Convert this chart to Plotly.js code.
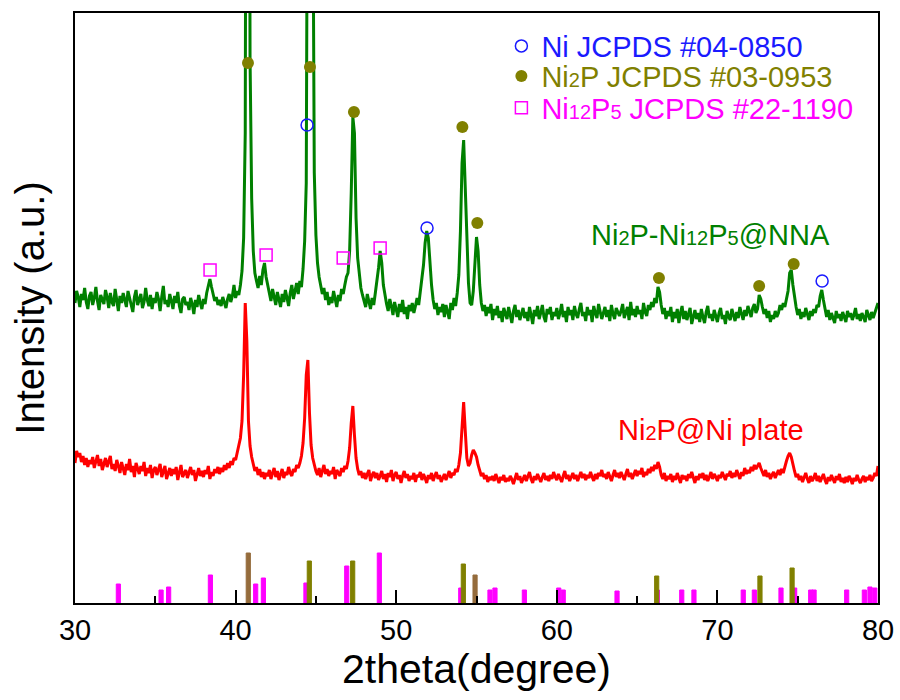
<!DOCTYPE html>
<html>
<head>
<meta charset="utf-8">
<script src="https://cdn.plot.ly/plotly-3.0.1.min.js"></script>
<style>html,body{margin:0;padding:0;background:#fff;}#chart{width:900px;height:700px;}</style>
</head>
<body>
<div id="chart"></div>
<script>
// 2theta grid: 30.0 .. 80.0, step 0.1 degree
const thetaStart = 30.0;
const thetaStep = 0.1;

// Ni2P-Ni12P5@NNA pattern (arbitrary units, offset stacked), one row per degree
const nnaIntensity = [
300,312,306,296,309,303,315,301,294,307,
311,298,305,316,302,293,308,304,299,313,
306,295,310,301,297,314,303,292,307,300,
310,302,296,312,305,299,291,306,313,298,
304,309,295,301,315,303,297,308,294,305,
300,311,304,292,306,317,299,303,296,309,
302,294,307,300,311,297,290,304,306,298,
301,293,305,299,289,303,296,308,300,294,
304,299,310,318,324,316,309,302,306,298,
303,297,306,300,295,304,309,301,307,318,
305,312,308,318,332,365,470,1250,1320,545,
405,352,330,322,315,327,318,333,340,326,
318,309,302,314,305,298,311,303,296,309,
301,313,306,297,310,318,304,312,320,309,
322,316,334,362,420,900,1350,1380,760,430,
368,340,326,318,309,315,303,311,298,306,
300,312,305,296,308,302,314,309,318,326,
330,352,410,486,470,385,345,326,315,308,
302,296,309,300,294,305,298,310,322,335,
352,340,318,306,299,292,304,297,288,301,
294,286,299,291,303,289,296,284,298,292,
300,290,297,305,298,310,322,338,360,372,
365,340,318,303,294,300,288,296,291,299,
286,298,292,284,300,293,305,297,310,328,
372,440,463,418,360,320,300,298,312,340,
366,352,318,300,292,298,287,296,290,299,
283,294,288,297,285,292,281,295,289,284,
296,287,280,292,298,286,293,283,290,295,
285,291,282,296,288,279,293,287,297,284,
290,298,286,281,294,289,296,283,291,287,
295,284,290,299,286,292,281,296,288,293,
283,297,289,285,294,300,287,291,282,296,
288,293,281,297,290,285,299,292,284,290,
296,286,293,282,298,289,284,295,291,287,
292,299,285,290,296,283,301,288,294,286,
297,289,293,284,300,291,287,298,293,301,
296,305,300,316,311,298,289,295,284,292,
287,296,281,291,285,294,280,290,297,284,
292,283,289,295,279,288,293,284,290,281,
294,286,280,291,297,285,289,282,293,287,
281,290,295,284,288,279,292,286,283,294,
288,282,291,285,296,289,283,293,287,297,
291,286,295,299,290,294,308,304,296,289,
294,285,292,281,288,284,292,286,290,298,
293,300,296,305,312,330,333,318,304,296,
288,294,284,291,286,295,289,283,292,287,
294,290,298,296,307,313,303,292,286,293,
283,290,286,280,292,285,289,282,291,287,
281,292,286,290,283,288,295,284,289,282,
290,286,281,293,288,283,291,285,290,294,
300
];

// Ni2P@Ni plate pattern (arbitrary units), one row per degree
const plateIntensity = [
140,152,146,150,141,147,138,145,136,143,
139,146,135,142,148,137,144,133,140,145,
136,141,147,134,139,132,143,137,130,141,
135,128,139,133,144,131,137,126,140,134,
129,137,132,141,127,135,130,138,125,133,
136,128,134,139,126,132,137,124,131,135,
127,134,129,136,123,132,138,126,130,133,
125,131,136,128,133,122,130,135,127,132,
126,133,129,137,124,131,127,134,130,136,
129,135,131,138,133,140,135,142,138,145,
143,150,156,165,182,228,300,262,182,157,
146,138,132,136,128,134,126,131,124,130,
127,133,124,130,135,126,132,123,129,134,
125,131,128,136,130,127,134,131,138,135,
140,147,160,185,228,243,190,158,145,137,
132,128,135,126,131,138,129,134,127,132,
129,136,124,133,130,127,135,131,137,134,
142,155,180,197,168,145,134,128,132,125,
130,124,129,133,122,128,131,125,130,123,
127,132,124,129,121,130,126,133,122,128,
131,124,128,120,127,132,125,129,122,127,
124,130,121,128,126,131,123,129,125,120,
128,124,130,122,127,131,124,128,121,126,
129,123,127,132,125,130,128,134,131,138,
150,178,201,172,145,137,140,148,153,150,
146,138,132,127,130,124,128,121,126,123,
127,122,129,124,120,126,123,128,121,125,
122,127,124,119,126,130,123,127,120,125,
128,122,126,131,124,120,127,123,129,125,
121,126,130,123,127,122,128,124,131,126,
123,129,125,121,127,132,124,128,122,127,
130,124,128,122,126,131,125,129,123,128,
125,131,126,122,129,124,130,127,133,126,
129,124,131,127,122,128,133,126,130,125,
131,127,123,129,134,126,130,124,128,133,
127,132,129,135,126,131,128,134,130,136,
132,138,134,141,136,128,124,130,122,127,
124,129,121,127,123,130,125,120,128,124,
127,122,129,125,131,124,120,127,123,129,
125,130,123,128,122,126,131,124,129,126,
122,128,125,131,126,123,129,127,132,125,
130,126,133,128,124,131,127,135,129,133,
130,136,132,138,134,137,140,135,131,127,
133,126,130,124,128,131,125,129,133,128,
134,130,137,142,147,150,146,138,132,126,
129,123,127,121,126,130,124,120,127,122,
125,130,122,127,121,126,129,123,119,126,
122,128,124,120,127,123,129,121,125,120,
126,121,127,124,119,125,122,128,123,120,
124,127,121,126,123,128,122,125,130,127,
137
];

// Phase markers on the NNA pattern
const niMarkX = [44.45, 51.92, 76.52];
const niMarkY = [478, 375, 322];
const ni2pMarkX = [40.77, 44.63, 47.37, 54.12, 55.05, 66.36, 72.6, 74.75];
const ni2pMarkY = [540, 536, 491, 476, 380, 325, 317, 339];
const ni12p5MarkX = [38.41, 41.9, 46.7, 49.0];
const ni12p5MarkY = [333, 348, 345, 355];

// Reference sticks (standard patterns)
const ni12p5StickPos = [32.7, 35.36, 35.83, 38.43, 41.25, 41.73, 44.38, 46.92, 48.95, 54.02, 55.84, 56.15, 57.98, 60.12, 60.4, 63.75, 66.26, 67.78, 68.54, 71.61, 72.3, 73.96, 74.81, 75.81, 76.02, 78.05, 79.15, 79.5, 79.8];
const ni12p5StickH   = [19, 13, 16, 28, 19, 25, 20, 37, 50, 15, 13, 15, 13, 15, 13, 12, 13, 13, 13, 13, 13, 15, 15, 13, 13, 13, 13, 16, 15];
const ni2pStickPos = [44.59, 47.29, 54.18, 66.22, 72.65, 74.65];
const ni2pStickH   = [42, 42, 39, 27, 27, 35];
const ni2pStrongStickPos = [40.79, 54.91];
const ni2pStrongStickH   = [50, 28];

// Text
const xTickVals = [30, 40, 50, 60, 70, 80];
const xTickText = ['30', '40', '50', '60', '70', '80'];
const legendNames = [
  'Ni JCPDS #04-0850',
  'Ni<span style="font-size:20px">2</span>P JCPDS #03-0953',
  'Ni<span style="font-size:20px">12</span>P<span style="font-size:20px">5</span> JCPDS #22-1190'
];
const nnaLabel = 'Ni<span style="font-size:20px">2</span>P-Ni<span style="font-size:20px">12</span>P<span style="font-size:20px">5</span>@NNA';
const plateLabel = 'Ni<span style="font-size:20px">2</span>P@Ni plate';
const xTitle = '2theta(degree)';
const yTitle = 'Intensity (a.u.)';

const twoTheta = nnaIntensity.map((_, i) => +(thetaStart + i * thetaStep).toFixed(1));

const FONT = 'Liberation Sans, Arial, sans-serif';
const BLUE = '#1a1aff', OLIVE = '#808000', MAGENTA = '#ff00ff', BROWN = '#956c3c';

const traces = [
  {type:'bar', x: ni12p5StickPos, y: ni12p5StickH, width: 0.26, marker:{color: MAGENTA, line:{color: MAGENTA, width:1}}, showlegend:false, hoverinfo:'skip'},
  {type:'bar', x: ni2pStickPos, y: ni2pStickH, width: 0.26, marker:{color: OLIVE, line:{color: OLIVE, width:1}}, showlegend:false, hoverinfo:'skip'},
  {type:'bar', x: ni2pStrongStickPos, y: ni2pStrongStickH, width: 0.26, marker:{color: BROWN, line:{color: BROWN, width:1}}, showlegend:false, hoverinfo:'skip'},
  {type:'scatter', mode:'lines', x: twoTheta, y: plateIntensity, line:{color:'#ff0000', width:3}, showlegend:false, hoverinfo:'skip'},
  {type:'scatter', mode:'lines', x: twoTheta, y: nnaIntensity, line:{color:'#008000', width:3}, showlegend:false, hoverinfo:'skip'},
  {type:'scatter', mode:'markers', x: niMarkX, y: niMarkY, name: legendNames[0], legend:'legend',
   marker:{symbol:'circle-open', size:12, color: BLUE, line:{width:1.5, color: BLUE}}},
  {type:'scatter', mode:'markers', x: ni2pMarkX, y: ni2pMarkY, name: legendNames[1], legend:'legend2',
   marker:{symbol:'circle', size:12, color: OLIVE}},
  {type:'scatter', mode:'markers', x: ni12p5MarkX, y: ni12p5MarkY, name: legendNames[2], legend:'legend3',
   marker:{symbol:'square-open', size:12, color: MAGENTA, line:{width:1.5, color: MAGENTA}}}
];

function legendAt(y, color) {
  return {x: 0.531, y: y, xanchor:'left', yanchor:'middle', bgcolor:'rgba(0,0,0,0)', borderwidth:0,
          font:{family: FONT, size: 29, color: color}, itemwidth: 30};
}

const layout = {
  width: 900, height: 700,
  margin: {l: 75, r: 22, t: 13, b: 97},
  paper_bgcolor: '#ffffff', plot_bgcolor: '#ffffff',
  barmode: 'overlay',
  font: {family: FONT, color: '#000'},
  xaxis: {
    range: [30, 80], tickvals: xTickVals, ticktext: xTickText,
    ticks: 'inside', ticklen: 13, tickwidth: 2, tickcolor: '#000',
    minor: {dtick: 5, tick0: 30, ticks: 'inside', ticklen: 7, tickwidth: 2, tickcolor: '#000'},
    showline: true, linewidth: 2, linecolor: '#000', mirror: true,
    showgrid: false, zeroline: false,
    tickfont: {family: FONT, size: 29, color: '#000'},
    title: {text: xTitle, font: {family: FONT, size: 41, color: '#000'}, standoff: 4}
  },
  yaxis: {
    range: [0, 590], showticklabels: false, ticks: '',
    showline: true, linewidth: 2, linecolor: '#000', mirror: true,
    showgrid: false, zeroline: false,
    title: {text: yTitle, font: {family: FONT, size: 40, color: '#000'}, standoff: 16}
  },
  showlegend: true,
  legend: legendAt(0.944, BLUE),
  legend2: legendAt(0.893, OLIVE),
  legend3: legendAt(0.839, MAGENTA),
  annotations: [
    {xref:'x', yref:'y', x: 69.55, y: 368, text: nnaLabel, showarrow:false, font:{family: FONT, size: 29, color:'#008000'}},
    {xref:'x', yref:'y', x: 69.63, y: 173, text: plateLabel, showarrow:false, font:{family: FONT, size: 29, color:'#ff0000'}}
  ]
};

Plotly.newPlot('chart', traces, layout, {displayModeBar: false, staticPlot: true});
</script>
</body>
</html>
